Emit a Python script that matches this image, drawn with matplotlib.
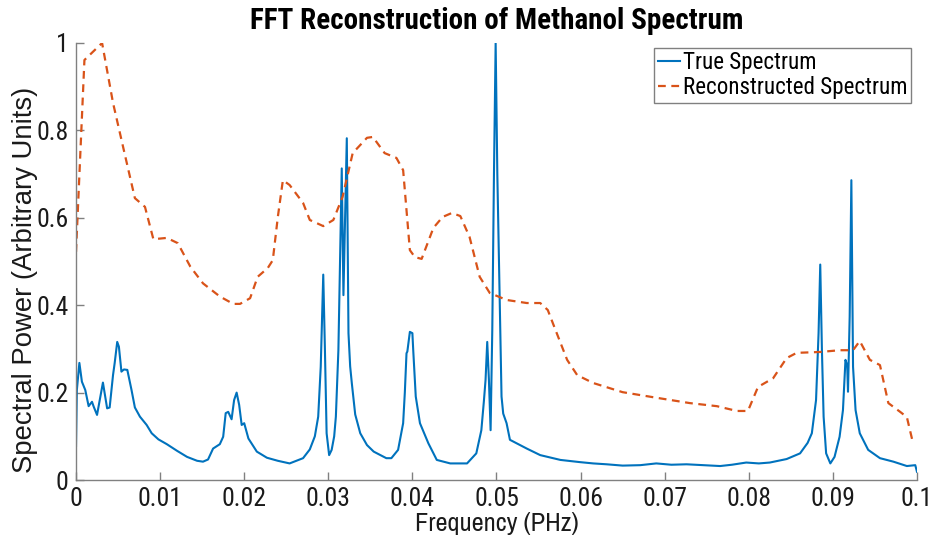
import matplotlib
matplotlib.use("Agg")
import matplotlib.pyplot as plt

plt.rcParams['font.family'] = ['Liberation Sans', 'DejaVu Sans']
COND = ['Roboto Condensed', 'Archivo Narrow', 'Liberation Sans', 'DejaVu Sans']
NARROW = ['Archivo Narrow', 'Roboto Condensed', 'Liberation Sans', 'DejaVu Sans']

# True spectrum (frequency in PHz, normalised power)
true_freq = [
    0.0000, 0.0001, 0.0004, 0.0007, 0.0011, 0.0015, 0.0019, 0.0021, 0.0025,
    0.0032, 0.0037, 0.0040, 0.0044, 0.0046, 0.0049, 0.0051, 0.0054, 0.0057,
    0.0061, 0.0066, 0.0070, 0.0076, 0.0084, 0.0090, 0.0098, 0.0108, 0.0120,
    0.0132, 0.0144, 0.0151, 0.0157, 0.0163, 0.0171, 0.0175, 0.0178, 0.0181,
    0.0185, 0.0188, 0.0191, 0.0194, 0.0197, 0.0200, 0.0205, 0.0215, 0.0227,
    0.0240, 0.0254, 0.0270, 0.0278, 0.0284, 0.0288, 0.0291, 0.0294, 0.0296,
    0.0298, 0.0301, 0.0304, 0.0307, 0.0309, 0.0312, 0.0314, 0.0316, 0.0318,
    0.0320, 0.0322, 0.0324, 0.0326, 0.0328, 0.0332, 0.0338, 0.0346, 0.0354,
    0.0369, 0.0375, 0.0383, 0.0389, 0.0391, 0.0393, 0.0394, 0.0397, 0.0400,
    0.0401, 0.0404, 0.0409, 0.0419, 0.0429, 0.0445, 0.0465, 0.0476, 0.0482,
    0.0485, 0.0487, 0.0489, 0.0491, 0.0493, 0.0495, 0.0497, 0.0499, 0.0501,
    0.0503, 0.0506, 0.0508, 0.0512, 0.0516, 0.0524, 0.0536, 0.0552, 0.0576,
    0.0599, 0.0615, 0.0631, 0.0650, 0.0671, 0.0690, 0.0708, 0.0726, 0.0745,
    0.0766, 0.0780, 0.0797, 0.0812, 0.0825, 0.0845,
    0.0861, 0.0870, 0.0875, 0.0880, 0.0883, 0.0885, 0.0887, 0.0889, 0.0892,
    0.0897, 0.0902, 0.0908, 0.0912, 0.0915, 0.0917, 0.0918, 0.0920, 0.0922,
    0.0924, 0.0927, 0.0932, 0.0942, 0.0956, 0.0972, 0.0988, 0.0998, 0.1000,
]
true_power = [
    0.078, 0.206, 0.268, 0.225, 0.206, 0.169, 0.179, 0.168, 0.149,
    0.223, 0.164, 0.166, 0.240, 0.268, 0.316, 0.305, 0.248, 0.253,
    0.252, 0.206, 0.166, 0.145, 0.126, 0.107, 0.093, 0.082, 0.067,
    0.053, 0.044, 0.042, 0.047, 0.072, 0.082, 0.099, 0.153, 0.156,
    0.139, 0.183, 0.200, 0.172, 0.126, 0.130, 0.095, 0.065, 0.051,
    0.044, 0.038, 0.050, 0.070, 0.100, 0.145, 0.259, 0.470, 0.297,
    0.107, 0.057, 0.069, 0.100, 0.145, 0.297, 0.500, 0.713, 0.423,
    0.600, 0.782, 0.336, 0.260, 0.221, 0.150, 0.107, 0.080, 0.065,
    0.050, 0.050, 0.069, 0.130, 0.200, 0.290, 0.294, 0.339, 0.336,
    0.297, 0.191, 0.130, 0.084, 0.046, 0.038, 0.038, 0.061, 0.114,
    0.180, 0.229, 0.316, 0.229, 0.114, 0.343, 0.700, 1.000, 0.700,
    0.496, 0.191, 0.152, 0.130, 0.092, 0.084, 0.072, 0.057, 0.046,
    0.041, 0.038, 0.036, 0.033, 0.034, 0.038, 0.035, 0.036, 0.034,
    0.032, 0.035, 0.040, 0.038, 0.040, 0.048,
    0.061, 0.085, 0.107, 0.183, 0.336, 0.493, 0.297, 0.145, 0.061,
    0.038, 0.053, 0.099, 0.160, 0.275, 0.263, 0.202, 0.374, 0.686,
    0.259, 0.160, 0.107, 0.069, 0.050, 0.042, 0.032, 0.034, 0.019,
]

# Spectrum reconstructed from the truncated FFT
recon_freq = [
    0.0000, 0.0010, 0.0031, 0.0044, 0.0056, 0.0070, 0.0082, 0.0092, 0.0108,
    0.0121, 0.0136, 0.0151, 0.0171, 0.0187, 0.0195, 0.0207, 0.0216, 0.0228,
    0.0234, 0.0240, 0.0246, 0.0254, 0.0270, 0.0278, 0.0294, 0.0306, 0.0317,
    0.0329, 0.0346, 0.0353, 0.0367, 0.0381, 0.0389, 0.0397, 0.0403, 0.0411,
    0.0425, 0.0436, 0.0447, 0.0457, 0.0468, 0.0480, 0.0492, 0.0512, 0.0536,
    0.0552, 0.0561, 0.0567, 0.0584, 0.0596, 0.0615, 0.0650, 0.0691, 0.0730,
    0.0762, 0.0786, 0.0799, 0.0811, 0.0829, 0.0845, 0.0857, 0.0885, 0.0908,
    0.0924, 0.0932, 0.0944, 0.0956, 0.0966, 0.0980, 0.0988, 0.0995,
]
recon_power = [
    0.522, 0.961, 1.000, 0.863, 0.762, 0.645, 0.625, 0.551, 0.554,
    0.542, 0.488, 0.450, 0.420, 0.403, 0.403, 0.416, 0.465, 0.485,
    0.503, 0.602, 0.686, 0.675, 0.634, 0.595, 0.581, 0.595, 0.648,
    0.748, 0.783, 0.785, 0.748, 0.737, 0.709, 0.526, 0.510, 0.506,
    0.577, 0.602, 0.611, 0.604, 0.556, 0.465, 0.428, 0.412, 0.405,
    0.405, 0.389, 0.359, 0.275, 0.240, 0.222, 0.201, 0.188, 0.176,
    0.169, 0.158, 0.158, 0.213, 0.233, 0.279, 0.291, 0.293, 0.297,
    0.297, 0.318, 0.275, 0.263, 0.176, 0.156, 0.144, 0.087,
]

x_ticks = [0, 0.01, 0.02, 0.03, 0.04, 0.05, 0.06, 0.07, 0.08, 0.09, 0.1]
x_tick_labels = ['0', '0.01', '0.02', '0.03', '0.04', '0.05', '0.06',
                 '0.07', '0.08', '0.09', '0.1']
y_ticks = [0, 0.2, 0.4, 0.6, 0.8, 1]
y_tick_labels = ['0', '0.2', '0.4', '0.6', '0.8', '1']

blue = '#0072BD'
orange = '#D95319'
axis_grey = '#808080'
text_col = '#1a1a1a'

fig = plt.figure(figsize=(9.35, 5.44), dpi=100)
ax = fig.add_axes([0.0813, 0.1176, 0.8994, 0.8034])

ax.plot(true_freq, true_power, color=blue, lw=1.5, label='True Spectrum')
ax.plot(recon_freq, recon_power, color=orange, lw=1.6,
        dashes=(3.5, 2.5), label='Reconstructed Spectrum')

ax.set_xlim(0, 0.1)
ax.set_ylim(0, 1)
ax.set_xticks(x_ticks)
ax.set_xticklabels(x_tick_labels, family=COND, fontsize=18.5)
ax.set_yticks(y_ticks)
ax.set_yticklabels(y_tick_labels, family=COND, fontsize=18.5)

for side in ('top', 'right'):
    ax.spines[side].set_visible(False)
for side in ('left', 'bottom'):
    ax.spines[side].set_color(axis_grey)
    ax.spines[side].set_linewidth(1.0)
ax.tick_params(direction='in', length=6, width=1.0, color=axis_grey,
               labelcolor=text_col)
ax.tick_params(axis='x', pad=5)
ax.tick_params(axis='y', pad=5.5)

ax.set_xlabel('Frequency (PHz)', family=NARROW, fontsize=19,
              color=text_col, labelpad=1)
ax.set_ylabel('Spectral Power (Arbitrary Units)', fontsize=19.8,
              color=text_col)
ax.yaxis.set_label_coords(-0.045, 0.458)
ax.set_title('FFT Reconstruction of Methanol Spectrum', family=COND,
             fontsize=21, fontweight='bold', pad=10)

leg = ax.legend(loc='upper right', prop={'family': COND, 'size': 16.6},
                handlelength=0.95, handletextpad=0.15, borderpad=0.15,
                labelspacing=0.08, borderaxespad=0.0, fancybox=False,
                framealpha=1, bbox_to_anchor=(0.993, 0.9886))
leg.get_frame().set_edgecolor(axis_grey)
leg.get_frame().set_linewidth(1.0)

fig.savefig('out.png', dpi=100)
